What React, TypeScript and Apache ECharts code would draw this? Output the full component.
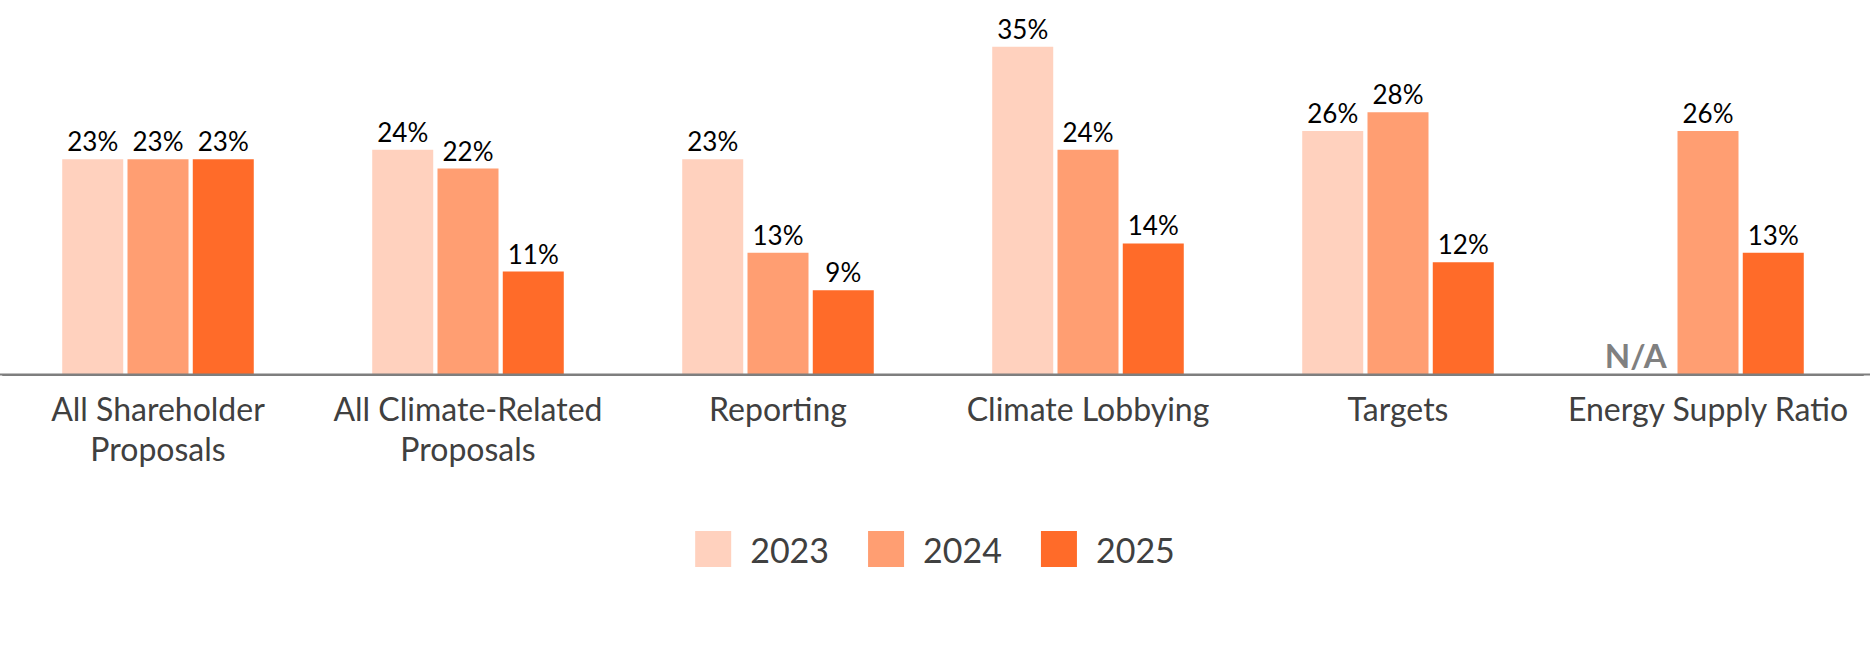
import React, { useEffect, useRef } from "react";
import * as echarts from "echarts";

const categories = [
  "All Shareholder\nProposals",
  "All Climate-Related\nProposals",
  "Reporting",
  "Climate Lobbying",
  "Targets",
  "Energy Supply Ratio",
];
const seriesNames = ["2023", "2024", "2025"];
const values2023: (number | null)[] = [23, 24, 23, 35, 26, null];
const values2024: (number | null)[] = [23, 22, 13, 24, 28, 26];
const values2025: (number | null)[] = [23, 11, 9, 14, 12, 13];
const colors = ["#FFD1BE", "#FF9E72", "#FF6B29"];
const naLabel = "N/A";

const FONT = "Lato, 'Noto Sans', sans-serif";

export default function App() {
  const ref = useRef<HTMLDivElement>(null);
  useEffect(() => {
    document.body.style.margin = "0";
    if (!ref.current) return;
    const chart = echarts.init(ref.current, null, { renderer: "svg" });
    const allValues = [values2023, values2024, values2025];
    const series = allValues.map((vals, i) => ({
      name: seriesNames[i],
      type: "bar",
      barWidth: 61,
      barGap: "7%",
      itemStyle: { color: colors[i] },
      label: {
        show: true,
        position: "top",
        distance: 5,
        formatter: "{c}%",
        fontFamily: FONT,
        fontSize: 26,
        color: "#000000",
      },
      data: vals.map((v) =>
        v === null
          ? {
              value: 0,
              label: {
                show: true,
                position: "top",
                distance: 3,
                offset: [-7, 0],
                formatter: naLabel,
                fontFamily: FONT,
                fontWeight: "bold",
                fontSize: 33,
                color: "#808080",
              },
            }
          : v
      ),
    }));
    chart.setOption({
      animation: false,
      backgroundColor: "#ffffff",
      grid: { left: 3, right: 7, top: 0, bottom: 295.5, containLabel: false },
      legend: {
        data: seriesNames,
        top: 526,
        left: "center",
        icon: "rect",
        itemWidth: 36,
        itemHeight: 36,
        itemGap: 39,
        textStyle: {
          fontFamily: FONT,
          fontSize: 34,
          color: "#404040",
          padding: [0, 0, 0, 14],
        },
      },
      xAxis: {
        type: "category",
        data: categories,
        axisLine: { show: true, lineStyle: { color: "#7F7F7F", width: 2 } },
        axisTick: { show: false },
        axisLabel: {
          interval: 0,
          margin: 14,
          fontFamily: FONT,
          fontSize: 32,
          lineHeight: 40,
          color: "#404040",
        },
      },
      yAxis: {
        type: "value",
        min: 0,
        max: 40,
        show: false,
        splitLine: { show: false },
      },
      graphic: [
        {
          type: "line",
          shape: { x1: 0, y1: 374.5, x2: 1870, y2: 374.5 },
          style: { stroke: "#7F7F7F", lineWidth: 2 },
          z: 10,
        },
      ],
      series,
    });
    return () => chart.dispose();
  }, []);
  return (
    <div
      ref={ref}
      style={{ position: "absolute", left: 0, top: 0, width: 1870, height: 670 }}
    />
  );
}
